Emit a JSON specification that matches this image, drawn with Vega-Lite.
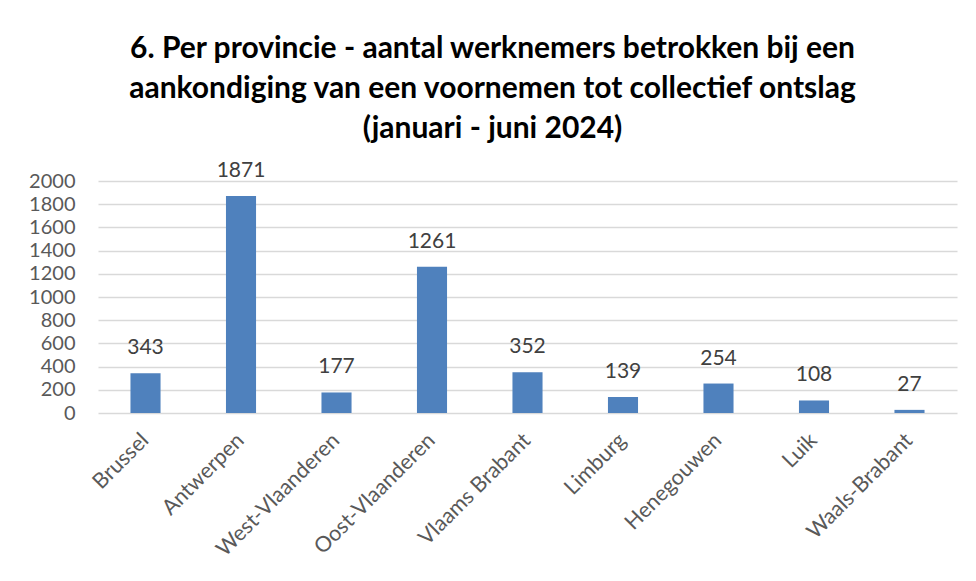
{
  "$schema": "https://vega.github.io/schema/vega-lite/v6.json",
  "width": 859,
  "height": 232,
  "autosize": {"type": "none"},
  "padding": {"left": 98, "top": 181, "right": 19, "bottom": 168},
  "background": "white",
  "title": {
    "text": ["6. Per provincie - aantal werknemers betrokken bij een", "aankondiging van een voornemen tot collectief ontslag", "(januari - juni 2024)"],
    "font": "Lato",
    "fontSize": 30,
    "fontWeight": "bold",
    "color": "#000000",
    "anchor": "middle",
    "frame": "group",
    "dx": -35,
    "offset": 16,
    "lineHeight": 40
  },
  "data": {
    "values": [
      {"provincie": "Brussel", "aantal": 343},
      {"provincie": "Antwerpen", "aantal": 1871},
      {"provincie": "West-Vlaanderen", "aantal": 177},
      {"provincie": "Oost-Vlaanderen", "aantal": 1261},
      {"provincie": "Vlaams Brabant", "aantal": 352},
      {"provincie": "Limburg", "aantal": 139},
      {"provincie": "Henegouwen", "aantal": 254},
      {"provincie": "Luik", "aantal": 108},
      {"provincie": "Waals-Brabant", "aantal": 27}
    ]
  },
  "encoding": {
    "x": {
      "field": "provincie",
      "type": "nominal",
      "sort": null,
      "scale": {"paddingInner": 0.685, "paddingOuter": 0.34},
      "axis": {
        "title": null,
        "labelAngle": -45,
        "labelAlign": "right",
        "labelBaseline": "middle",
        "labelFont": "Lato",
        "labelFontSize": 21.5,
        "labelColor": "#595959",
        "labelPadding": 24,
        "ticks": false,
        "domain": false,
        "grid": false
      }
    },
    "y": {
      "field": "aantal",
      "type": "quantitative",
      "scale": {"domain": [0, 2000], "nice": false},
      "axis": {
        "title": null,
        "format": "d",
        "values": [0, 200, 400, 600, 800, 1000, 1200, 1400, 1600, 1800, 2000],
        "labelFont": "Lato",
        "labelFontSize": 20,
        "labelColor": "#595959",
        "labelPadding": 23,
        "ticks": false,
        "domain": false,
        "grid": true,
        "gridColor": "#d9d9d9",
        "gridWidth": 1.5
      }
    }
  },
  "layer": [
    {"mark": {"type": "bar", "color": "#4f81bd"}},
    {
      "mark": {"type": "text", "dy": -25, "baseline": "middle", "font": "Lato", "fontSize": 21, "color": "#404040"},
      "encoding": {"text": {"field": "aantal", "type": "quantitative"}}
    }
  ],
  "config": {"view": {"stroke": null}}
}
